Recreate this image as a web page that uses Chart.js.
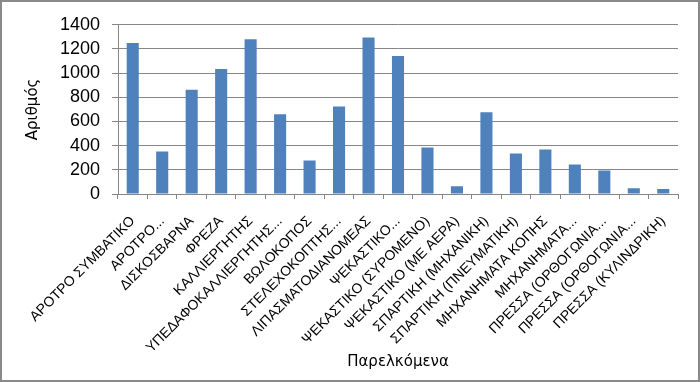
<!DOCTYPE html>
<html>
<head>
<meta charset="utf-8">
<script src="https://cdn.jsdelivr.net/npm/chart.js@4"></script>
<style>
  html, body { margin: 0; padding: 0; background: #fff; }
  #frame { width: 700px; height: 382px; box-sizing: border-box; border: 2px solid #898989; }
  canvas { display: block; }
</style>
</head>
<body>
<div id="frame"><canvas id="chart" width="696" height="378"></canvas></div>
<script>
// categories (truncated as in the original chart)
var categories = [
  "ΑΡΟΤΡΟ ΣΥΜΒΑΤΙΚΟ", "ΑΡΟΤΡΟ...", "ΔΙΣΚΟΣΒΑΡΝΑ", "ΦΡΕΖΑ", "ΚΑΛΛΙΕΡΓΗΤΗΣ",
  "ΥΠΕΔΑΦΟΚΑΛΛΙΕΡΓΗΤΗΣ...", "ΒΩΛΟΚΟΠΟΣ", "ΣΤΕΛΕΧΟΚΟΠΤΗΣ...", "ΛΙΠΑΣΜΑΤΟΔΙΑΝΟΜΕΑΣ",
  "ΨΕΚΑΣΤΙΚΟ...", "ΨΕΚΑΣΤΙΚΟ (ΣΥΡΟΜΕΝΟ)", "ΨΕΚΑΣΤΙΚΟ (ΜΕ ΑΕΡΑ)", "ΣΠΑΡΤΙΚΗ (ΜΗΧΑΝΙΚΗ)",
  "ΣΠΑΡΤΙΚΗ (ΠΝΕΥΜΑΤΙΚΗ)", "ΜΗΧΑΝΗΜΑΤΑ ΚΟΠΗΣ", "ΜΗΧΑΝΗΜΑΤΑ...", "ΠΡΕΣΣΑ (ΟΡΘΟΓΩΝΙΑ...",
  "ΠΡΕΣΣΑ (ΟΡΘΟΓΩΝΙΑ...", "ΠΡΕΣΣΑ (ΚΥΛΙΝΔΡΙΚΗ)"
];
var counts = [1250, 352, 863, 1035, 1280, 660, 277, 725, 1295, 1142, 385, 65, 677, 335, 368, 245, 195, 48, 42];
var yTicks = [0, 200, 400, 600, 800, 1000, 1200, 1400];

var axisGray = '#868686';

var ctx = document.getElementById('chart').getContext('2d');
var chart = new Chart(ctx, {
  type: 'bar',
  data: {
    labels: categories,
    datasets: [{
      label: 'Αριθμός',
      data: counts,
      backgroundColor: '#4F81BD',
      barPercentage: 0.41,
      categoryPercentage: 1.0
    }]
  },
  options: {
    responsive: false,
    animation: false,
    layout: { padding: { top: 6, right: 20, left: 0, bottom: 0 } },
    plugins: { legend: { display: false }, tooltip: { enabled: false } },
    scales: {
      x: {
        grid: { display: true, drawOnChartArea: false, drawTicks: true, tickLength: 5, color: axisGray, offset: true },
        border: { display: true, color: axisGray },
        ticks: {
          autoSkip: false, minRotation: 45, maxRotation: 45, padding: 14,
          color: '#000', font: { family: 'Liberation Sans', size: 14 }
        },
        title: {
          display: true, text: 'Παρελκόμενα', color: '#000',
          font: { family: 'DejaVu Sans', size: 15 }, padding: { top: 0, bottom: 9 }
        },
        afterFit: function(scale) { scale.height = 186; }
      },
      y: {
        min: 0, max: 1400,
        afterBuildTicks: function(scale) { scale.ticks = yTicks.map(function(v) { return { value: v }; }); },
        grid: { color: axisGray, tickLength: 6 },
        border: { display: true, color: axisGray },
        ticks: {
          autoSkip: false, padding: 12, color: '#000', font: { family: 'Liberation Sans', size: 18 },
          callback: function(v) { return String(v); }
        },
        title: {
          display: true, text: 'Αριθμός', color: '#000',
          font: { family: 'DejaVu Sans', size: 15 }, padding: { top: 22, bottom: 0 }
        },
        afterFit: function(scale) { scale.width = 116; }
      }
    }
  }
});
</script>
</body>
</html>
